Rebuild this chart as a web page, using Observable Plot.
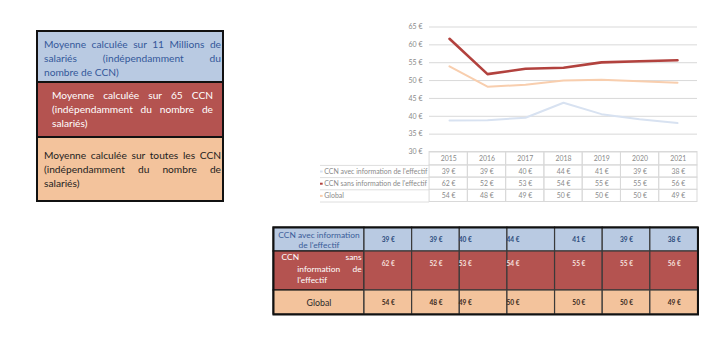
<!DOCTYPE html>
<html>
<head>
<meta charset="utf-8">
<script src="https://cdn.jsdelivr.net/npm/d3@7"></script>
<script src="https://cdn.jsdelivr.net/npm/@observablehq/plot@0.6"></script>
<style>
  body { margin: 0; background: #fff; }
  #root { position: relative; width: 727px; height: 358px; overflow: hidden; font-family: Lato, "Noto Sans", sans-serif; background: #fff; }
  .abs { position: absolute; }
  #box { left: 36px; top: 30px; width: 188px; height: 172px; border: 2px solid #111; box-sizing: border-box; }
  .sec { box-sizing: border-box; font-size: 10.2px; line-height: 14.3px; }
  .sec .ln { white-space: nowrap; text-align: justify; text-align-last: justify; }
  .sec .ln.last { text-align-last: left; }
</style>
</head>
<body>
<div id="root">
  <div id="box" class="abs"></div>
  <div id="chart" class="abs" style="left:300px;top:0px;"></div>
  <div id="dtable" class="abs" style="left:300px;top:151px;"></div>
  <div id="btable" class="abs" style="left:270px;top:224px;"></div>
</div>
<script>
// ---------- data ----------
const years = ["2015", "2016", "2017", "2018", "2019", "2020", "2021"];
const avecInfo = [38.8, 38.9, 39.6, 43.8, 40.6, 39.2, 38.1];
const sansInfo = [61.7, 51.8, 53.3, 53.6, 55.1, 55.4, 55.7];
const globalAvg = [54.0, 48.3, 48.8, 50.0, 50.2, 49.8, 49.4];
const seriesNames = ["CCN avec information de l'effectif", "CCN sans information de l'effectif", "Global"];
const yTicks = [30, 35, 40, 45, 50, 55, 60, 65];
const noteBlue = ["Moyenne calculée sur 11 Millions de", "salariés (indépendamment du", "nombre de CCN)"];
const noteRed = ["Moyenne calculée sur 65 CCN", "(indépendamment du nombre de", "salariés)"];
const notePeach = ["Moyenne calculée sur toutes les CCN", "(indépendamment du nombre de", "salariés)"];
const tableLabels = [["CCN avec information", "de l'effectif"], ["CCN sans", "information de", "l'effectif"], ["Global"]];

// ---------- styles ----------
const lineColors = ["#d8e2f1", "#b2423e", "#f8ceae"];
const lineWidths = [2, 2.6, 2];
const fills = ["#b9cae2", "#b45350", "#f3c39c"];
const valueInk = ["#2c4a7c", "#f6e0df", "#3b2a1c"];
const labelInk = ["#3a5c99", "#ffffff", "#2a2a2a"];
const leftAligned = new Set(["2017", "2018"]);
const font = "Lato, 'Noto Sans', sans-serif";

const values = [avecInfo, sansInfo, globalAvg];
const rows = seriesNames.flatMap((s, k) => years.map((year, i) => ({k, s, year, i, value: values[k][i]})));
const euro = v => `${Math.round(v)} €`;

// ---------- left note box ----------
const box = document.getElementById("box");
const secs = [
  {lines: noteBlue, bg: fills[0], color: "#34589a", h: 51, pad: "4.8px 1px 0 6px"},
  {lines: noteRed, bg: fills[1], color: "#ffffff", h: 55, pad: "4.8px 9px 0 14px"},
  {lines: notePeach, bg: fills[2], color: "#1e1e1e", h: 62, pad: "9.5px 1px 0 6px"}
];
secs.forEach((sec, j) => {
  const d = document.createElement("div");
  d.className = "sec";
  d.style.background = sec.bg;
  d.style.color = sec.color;
  d.style.height = sec.h + "px";
  d.style.padding = sec.pad;
  if (j < 2) d.style.borderBottom = "2px solid #111";
  sec.lines.forEach((t, n) => {
    const l = document.createElement("div");
    l.className = "ln" + (n === sec.lines.length - 1 ? " last" : "");
    l.textContent = t;
    d.appendChild(l);
  });
  box.appendChild(d);
});

// ---------- line chart ----------
const chart = Plot.plot({
  width: 400, height: 152,
  marginLeft: 129, marginRight: 3, marginTop: 26.5, marginBottom: 0.5,
  style: {background: "transparent", overflow: "visible", fontFamily: font, fontSize: "7px", color: "#8a8a8a"},
  x: {type: "point", domain: years, padding: 0.5, axis: null},
  y: {domain: [30, 65], ticks: yTicks, tickFormat: d => `${d} €`, tickSize: 0, tickPadding: 7, label: null},
  marks: [
    Plot.ruleY(yTicks, {stroke: "#d9d9d9", strokeWidth: 1}),
    ...[0, 2, 1].map(k => Plot.line(rows.filter(d => d.k === k), {
      x: "year", y: "value", stroke: lineColors[k], strokeWidth: lineWidths[k], strokeLinejoin: "round"
    }))
  ]
});
document.getElementById("chart").appendChild(chart);

// ---------- data table under the chart ----------
const headerSpan = 1.1, legendCols = 2.85;
const dtable = Plot.plot({
  width: 400, height: 51,
  marginLeft: 20, marginRight: 3, marginTop: 0.5, marginBottom: 0.5,
  style: {background: "transparent", overflow: "visible", fontFamily: font, fontSize: "6.9px", color: "#8a8a8a"},
  x: {domain: [-legendCols, years.length], axis: null},
  y: {domain: [headerSpan + seriesNames.length, 0], axis: null},
  color: {type: "identity"},
  marks: [
    Plot.ruleY(d3.range(seriesNames.length + 1).map(n => headerSpan + n), {x1: -legendCols, x2: 0, stroke: "#dedede"}),
    Plot.rect(years, {x1: (d, i) => i, x2: (d, i) => i + 1, y1: 0, y2: headerSpan, stroke: "#d9d9d9", fill: "none"}),
    Plot.rect(rows, {x1: "i", x2: d => d.i + 1, y1: d => headerSpan + d.k, y2: d => headerSpan + d.k + 1, stroke: "#d9d9d9", fill: "none"}),
    Plot.text(years, {x: (d, i) => i + 0.5, y: headerSpan / 2, text: d => d, fill: "#8a8a8a"}),
    Plot.text(rows, {x: d => d.i + 0.5, y: d => headerSpan + d.k + 0.5, text: d => euro(d.value), fill: "#8a8a8a"}),
    Plot.text(seriesNames, {x: -legendCols + 0.1, y: (d, k) => headerSpan + k + 0.5, text: d => d, textAnchor: "start", fill: "#8a8a8a", fontSize: 6.95}),
    Plot.ruleY(seriesNames, {y: (d, k) => headerSpan + k + 0.5, x1: -legendCols, x2: -legendCols + 0.07, stroke: (d, k) => lineColors[k], strokeWidth: 2})
  ]
});
document.getElementById("dtable").appendChild(dtable);

// ---------- bottom table ----------
const rowWeights = [1, 1.625, 1];
const rowEdges = rowWeights.reduce((a, w) => (a.push(a[a.length - 1] + w), a), [0]);
const labelColsB = 1.91;
const centered = [];
const justified = [];
tableLabels.forEach((lines, k) => {
  if (k === 1) {
    const mid = rowEdges[k] + rowWeights[k] / 2;
    lines.forEach((line, n) => {
      const words = line.split(" ");
      const y = mid + (n - (lines.length - 1) / 2) * 0.48;
      const left = n === 0 ? -labelColsB + 0.17 : -labelColsB + 0.5;
      justified.push({k, y, x: left, t: words[0], anchor: "start"});
      if (words.length > 1) justified.push({k, y, x: -0.06, t: words[words.length - 1], anchor: "end"});
    });
  } else {
    centered.push({k, y: (rowEdges[k] + rowEdges[k + 1]) / 2, t: lines.join("\n")});
  }
});
const btable = Plot.plot({
  width: 432, height: 93,
  marginLeft: 3, marginRight: 4.5, marginTop: 3, marginBottom: 3,
  style: {background: "transparent", overflow: "visible", fontFamily: font, fontSize: "8px"},
  x: {domain: [-labelColsB, years.length], axis: null},
  y: {domain: [rowEdges[rowEdges.length - 1], 0], axis: null},
  color: {type: "identity"},
  marks: [
    Plot.rect(seriesNames, {x1: -labelColsB, x2: 0, y1: (d, k) => rowEdges[k], y2: (d, k) => rowEdges[k + 1], fill: (d, k) => fills[k], stroke: "#1a1a1a", strokeWidth: 1.2}),
    Plot.rect(rows, {x1: "i", x2: d => d.i + 1, y1: d => rowEdges[d.k], y2: d => rowEdges[d.k + 1], fill: d => fills[d.k], stroke: "#3a3a3a", strokeWidth: 1.2}),
    Plot.text(rows.filter(d => !leftAligned.has(d.year)), {x: d => d.i + 0.5, y: d => rowEdges[d.k] + 0.5, text: d => euro(d.value), fill: d => valueInk[d.k], fontSize: 6.6, fontWeight: "bold"}),
    Plot.text(rows.filter(d => leftAligned.has(d.year)), {x: d => d.i, y: d => rowEdges[d.k] + 0.5, text: d => euro(d.value), fill: d => valueInk[d.k], fontSize: 6.6, fontWeight: "bold", textAnchor: "start", dx: -1}),
    Plot.text(centered, {x: -labelColsB / 2, y: "y", text: "t", fill: d => labelInk[d.k], fontSize: d => d.k === 2 ? 8.8 : 8.4, lineHeight: 1.3}),
    Plot.text(justified.filter(d => d.anchor === "start"), {x: "x", y: "y", text: "t", fill: d => labelInk[d.k], fontSize: 8.4, textAnchor: "start", dy: -2}),
    Plot.text(justified.filter(d => d.anchor === "end"), {x: "x", y: "y", text: "t", fill: d => labelInk[d.k], fontSize: 8.4, textAnchor: "end", dy: -2}),
    Plot.frame({stroke: "#111", strokeWidth: 2})
  ]
});
document.getElementById("btable").appendChild(btable);
</script>
</body>
</html>
